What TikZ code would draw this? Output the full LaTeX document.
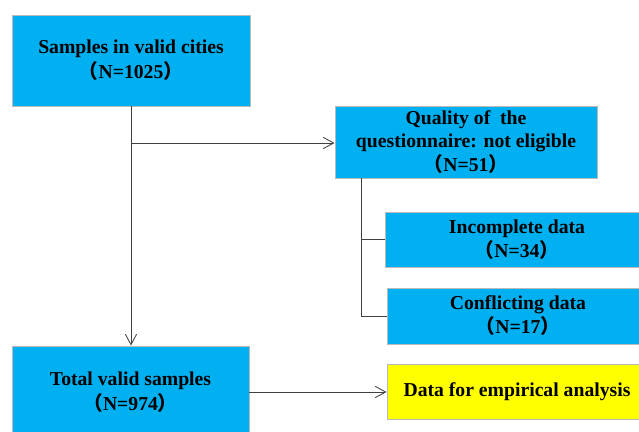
\documentclass[tikz,border=0pt]{standalone}
\usepackage{fontspec}
\setmainfont{Liberation Serif}
\newfontfamily\cjk{Noto Sans CJK SC}
\usepackage{tikz}
\usetikzlibrary{shapes, arrows.meta, positioning, fit}
\definecolor{boxcyan}{HTML}{00B0F0}
\definecolor{boxyellow}{HTML}{FFFF00}
\newcommand{\lpar}{{\cjk （}}
\newcommand{\rpar}{{\cjk ）}}

\begin{document}
\begin{tikzpicture}[x=0.025cm, y=-0.025cm,
    box/.style={draw=gray!55, fill=boxcyan, rectangle, line width=0.6pt, align=center, inner sep=2pt, font=\fontsize{14}{17}\selectfont\bfseries},
    bigbox/.style={box, minimum width=5.95cm, minimum height=2.3cm, font=\fontsize{14}{18}\selectfont\bfseries},
    arrow/.style={-{Straight Barb[length=2.6mm,width=2.8mm]}, black!75, line width=0.6pt},
    link/.style={black!75, line width=0.6pt}
]
\useasboundingbox (0,0) rectangle (639,432);
\clip (0,0) rectangle (639,432);

\node[bigbox, minimum height=2.275cm] (cities) at (131,60.5) {Samples in valid cities\\\lpar N=1025\rpar};
\node[box, minimum width=6.55cm, minimum height=1.8cm] (quality) at (466,142) {Quality of~ the\\questionnaire: not eligible\\\lpar N=51\rpar};
\node[box, minimum width=6.6cm, minimum height=1.375cm] (incomplete) at (517,239.5) {Incomplete data\\\lpar N=34\rpar};
\node[box, minimum width=6.55cm, minimum height=1.4cm] (conflict) at (518,316) {Conflicting data\\\lpar N=17\rpar};
\node[bigbox, minimum width=5.925cm] (total) at (130.5,392) {Total valid samples\\\lpar N=974\rpar};
\node[box, fill=boxyellow, minimum width=6.5cm, minimum height=1.375cm] (analysis) at (517,391.5) {Data for empirical analysis};

\coordinate (split) at (cities.south |- 0,143);
\coordinate (qfoot) at ([xshift=0.675cm]quality.south west);

\draw[arrow] (cities.south) -- (cities.south |- total.north);
\draw[arrow] (split) -- (split -| quality.west);
\draw[link] (qfoot) |- (conflict.west);
\draw[link] (qfoot |- incomplete.west) -- (incomplete.west);
\draw[arrow] (total.east) -- (total.east -| analysis.west);
\end{tikzpicture}
\end{document}
